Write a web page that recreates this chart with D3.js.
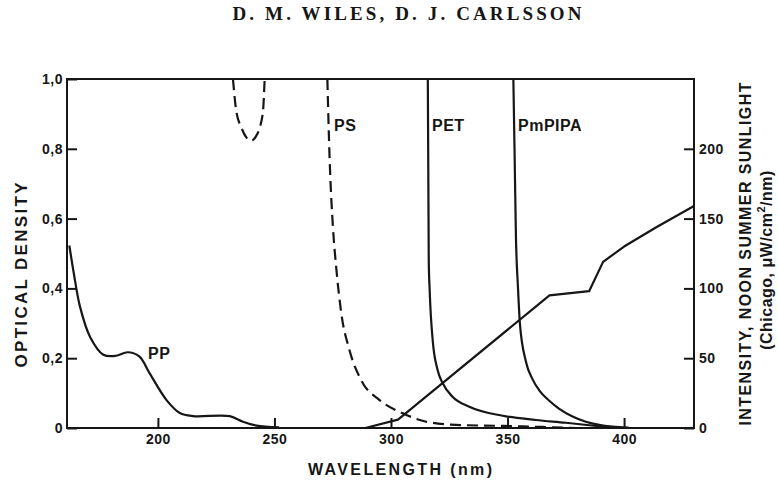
<!DOCTYPE html>
<html>
<head>
<meta charset="utf-8">
<script src="https://cdn.jsdelivr.net/npm/d3@7"></script>
<style>
  body { margin: 0; background: #fff; }
  text { font-family: "Liberation Sans", Arial, sans-serif; fill: #161616; }
</style>
</head>
<body>
<div id="chart"></div>
<script>
// wavelength (nm) / optical density
var ppWave = [162, 164, 166.6, 170.9, 176.6, 182, 187, 192, 196.6, 203.7, 209.4, 215.1, 230.8, 236.5, 242.3, 252];
var ppOD   = [0.523, 0.44, 0.347, 0.261, 0.21, 0.207, 0.217, 0.205, 0.155, 0.08, 0.043, 0.034, 0.034, 0.018, 0.007, 0.002];

// PS goes off scale (>1.0) between the two branches -> null gap
var psWave = [232.2, 233.6, 235.8, 238, 240.1, 242, 243.7, 245.1, 245.8, null, 272.7, 273.7, 275.1, 276.5, 278.7, 282.2, 287.2, 295.1, 305.1, 315.1, 327.9, 347.9, 365, 380];
var psOD   = [1.0, 0.909, 0.861, 0.832, 0.823, 0.835, 0.861, 0.909, 1.0, null, 1.0, 0.766, 0.575, 0.46, 0.328, 0.223, 0.137, 0.08, 0.042, 0.018, 0.009, 0.006, 0.003, 0];

var petWave = [315.8, 316.2, 316.6, 317.9, 320, 322.2, 326.5, 333.6, 347.9, 362.2, 375, 389, 396];
var petOD   = [1.0, 0.48, 0.394, 0.251, 0.166, 0.128, 0.089, 0.061, 0.035, 0.023, 0.015, 0.005, 0];

var pmpipaWave = [352.5, 353, 353.6, 354.5, 355.3, 357.9, 360.7, 363.6, 367.9, 372.2, 377.9, 383.6, 389.3, 395, 402];
var pmpipaOD   = [1.0, 0.8, 0.55, 0.4, 0.3, 0.19, 0.14, 0.108, 0.078, 0.055, 0.033, 0.018, 0.009, 0.004, 0.001];

// noon summer sunlight, uW/cm2/nm (right axis)
var sunWave = [289, 303, 368, 385, 391, 400, 414, 430];
var sunInt  = [0, 6, 95, 98, 119, 130, 144, 159];

var xTicks = [200, 250, 300, 350, 400];
var odTicks = [0, 0.2, 0.4, 0.6, 0.8, 1.0];
var odLabels = ["0", "0,2", "0,4", "0,6", "0,8", "1,0"];
var sunTicks = [0, 50, 100, 150, 200];

var width = 779, height = 481;
var margin = {top: 79, right: 85, bottom: 53, left: 67};

var svg = d3.select("#chart").append("svg")
  .attr("width", width)
  .attr("height", height);

var x = d3.scaleLinear().domain([161, 430]).range([margin.left, width - margin.right]);
var yL = d3.scaleLinear().domain([0, 1]).range([height - margin.bottom, margin.top]);
var yR = d3.scaleLinear().domain([0, 250]).range([height - margin.bottom, margin.top]);

// title
svg.append("text")
  .attr("x", 407).attr("y", 20)
  .attr("text-anchor", "middle")
  .attr("textLength", 349).attr("lengthAdjust", "spacing")
  .style("font-family", "'Liberation Serif', 'Times New Roman', serif")
  .style("font-weight", "bold")
  .style("font-size", "19px")
  .text("D. M. WILES, D. J. CARLSSON");

// axes (ticks point inward)
var gx = svg.append("g")
  .attr("transform", "translate(0," + yL(0) + ")")
  .call(d3.axisBottom(x).tickValues(xTicks).tickSize(-10).tickPadding(6));
var gl = svg.append("g")
  .attr("transform", "translate(" + x.range()[0] + ",0)")
  .call(d3.axisLeft(yL).tickValues(odTicks).tickSize(-10).tickPadding(4)
    .tickFormat(function(d, i) { return odLabels[i]; }));
var gr = svg.append("g")
  .attr("transform", "translate(" + x.range()[1] + ",0)")
  .call(d3.axisRight(yR).tickValues(sunTicks).tickSize(-10).tickPadding(5));

[gx, gl, gr].forEach(function(g) {
  g.select(".domain").remove();
  g.selectAll(".tick line").attr("stroke", "#161616").attr("stroke-width", 2);
  g.selectAll(".tick text")
    .style("font-size", "14px")
    .style("font-weight", "bold")
    .style("letter-spacing", "0.5px")
    .attr("fill", "#2a2a2a");
});

// frame
svg.append("rect")
  .attr("x", x.range()[0]).attr("y", yL(1))
  .attr("width", x.range()[1] - x.range()[0])
  .attr("height", yL(0) - yL(1))
  .attr("fill", "none")
  .attr("stroke", "#161616")
  .attr("stroke-width", 2);

// curves
var odLine = d3.line()
  .defined(function(d) { return d[0] !== null; })
  .x(function(d) { return x(d[0]); })
  .y(function(d) { return yL(d[1]); })
  .curve(d3.curveMonotoneX);

var sunLine = d3.line()
  .x(function(d) { return x(d[0]); })
  .y(function(d) { return yR(d[1]); });

function pairs(a, b) { return a.map(function(v, i) { return [v, b[i]]; }); }

svg.append("path").datum(pairs(ppWave, ppOD))
  .attr("d", odLine.curve(d3.curveCatmullRom.alpha(0.5))).attr("fill", "none")
  .attr("stroke", "#161616").attr("stroke-width", 2.2);
odLine.curve(d3.curveMonotoneX);
svg.append("path").datum(pairs(psWave, psOD))
  .attr("d", odLine).attr("fill", "none").attr("stroke", "#161616").attr("stroke-width", 2.2)
  .attr("stroke-dasharray", "11,6");
svg.append("path").datum(pairs(petWave, petOD))
  .attr("d", odLine).attr("fill", "none").attr("stroke", "#161616").attr("stroke-width", 2.2);
svg.append("path").datum(pairs(pmpipaWave, pmpipaOD))
  .attr("d", odLine).attr("fill", "none").attr("stroke", "#161616").attr("stroke-width", 2.2);
svg.append("path").datum(pairs(sunWave, sunInt))
  .attr("d", sunLine).attr("fill", "none").attr("stroke", "#161616").attr("stroke-width", 2.2)
  .attr("stroke-linejoin", "round");

// curve labels
var labels = [
  {t: "PP", x: 148, y: 359},
  {t: "PS", x: 334, y: 131},
  {t: "PET", x: 432, y: 131},
  {t: "PmPIPA", x: 518, y: 131}
];
svg.selectAll(".lbl").data(labels).enter().append("text")
  .attr("class", "lbl")
  .attr("x", function(d) { return d.x; })
  .attr("y", function(d) { return d.y; })
  .style("font-size", "16px")
  .style("font-weight", "bold")
  .style("letter-spacing", "0.5px")
  .text(function(d) { return d.t; });

// axis titles
svg.append("text")
  .attr("x", 400).attr("y", 475)
  .attr("text-anchor", "middle")
  .attr("textLength", 184).attr("lengthAdjust", "spacing")
  .style("font-size", "16px")
  .style("font-weight", "bold")
  .text("WAVELENGTH (nm)");

svg.append("text")
  .attr("transform", "translate(27,275) rotate(-90)")
  .attr("text-anchor", "middle")
  .attr("textLength", 185).attr("lengthAdjust", "spacing")
  .style("font-size", "17px")
  .style("font-weight", "bold")
  .text("OPTICAL DENSITY");

svg.append("text")
  .attr("transform", "translate(751,254) rotate(-90)")
  .attr("text-anchor", "middle")
  .attr("textLength", 343).attr("lengthAdjust", "spacing")
  .style("font-size", "16px")
  .style("font-weight", "bold")
  .text("INTENSITY, NOON SUMMER SUNLIGHT");

var sub = svg.append("text")
  .attr("transform", "translate(772,260) rotate(-90)")
  .attr("text-anchor", "middle")
  .style("font-size", "16px")
  .style("font-weight", "bold")
  .style("letter-spacing", "0.5px");
sub.append("tspan").text("(Chicago,  \u03bcW/cm");
sub.append("tspan").attr("dy", -7).style("font-size", "11px").text("2");
sub.append("tspan").attr("dy", 7).text("/nm)");
</script>
</body>
</html>
